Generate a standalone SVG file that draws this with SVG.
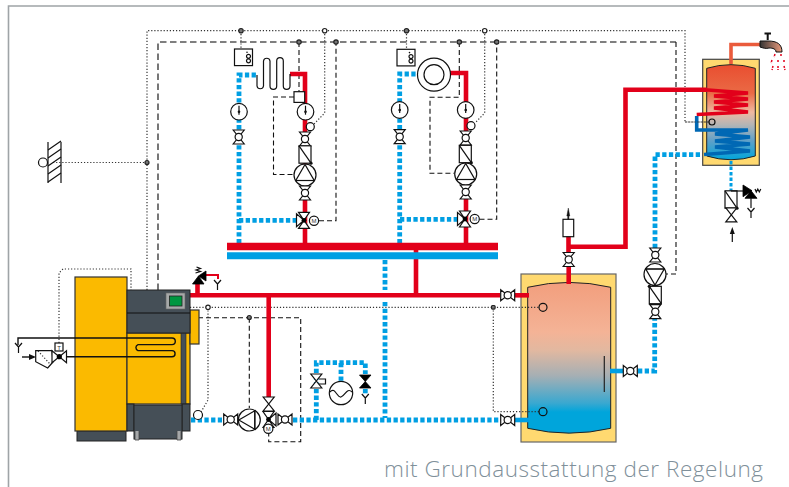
<svg xmlns="http://www.w3.org/2000/svg" width="789" height="487" viewBox="0 0 789 487">
<style>
.r{fill:none;stroke:#e2001a;stroke-width:4.6;stroke-linejoin:miter}
.b{fill:none;stroke:#009fe3;stroke-width:4.8;stroke-dasharray:4.3 2.4}
.cold{fill:none;stroke:#009fe3;stroke-width:4.6}
.dot{fill:none;stroke:#333;stroke-width:1.2;stroke-dasharray:1.2 1.9}
.dg{fill:none;stroke:#555;stroke-width:1.6;stroke-dasharray:6.5 3.5}
.da{fill:none;stroke:#111;stroke-width:1.1;stroke-dasharray:5 3}
.k{fill:none;stroke:#111;stroke-width:1.2}
.w{fill:#fff;stroke:#111;stroke-width:1.2}
.bk{fill:#000;stroke:#000;stroke-width:.8}
.box{fill:#fbba00;stroke:#333;stroke-width:1.2}
.dk{fill:#454f57;stroke:#222;stroke-width:1}
.j{fill:#777;stroke:#222;stroke-width:1.2}
.ju{fill:#fff;stroke:#222;stroke-width:1.2}
.s{fill:none;stroke:#111;stroke-width:1.2}
.cap{font-family:"Open Sans","Noto Sans",sans-serif;font-weight:300;font-size:22.5px;fill:#7f909a}
.t{font-family:"Liberation Sans",sans-serif;font-size:6px;fill:#333;text-anchor:middle}
</style>
<defs>
<linearGradient id="gs" x1="0" y1="0" x2="0" y2="1">
<stop offset="0" stop-color="#f29e7d"/><stop offset=".33" stop-color="#f4b396"/><stop offset=".45" stop-color="#e2b8a0"/><stop offset=".62" stop-color="#a5afb4"/><stop offset=".8" stop-color="#3aa8d0"/><stop offset=".86" stop-color="#00a5db"/><stop offset="1" stop-color="#00a5db"/>
</linearGradient>
<linearGradient id="gd" x1="0" y1="0" x2="0" y2="1">
<stop offset="0" stop-color="#e94e30"/><stop offset=".3" stop-color="#ea6a45"/><stop offset=".5" stop-color="#efb8a0"/><stop offset=".63" stop-color="#b5b5b5"/><stop offset=".8" stop-color="#60a0c8"/><stop offset="1" stop-color="#00a5db"/>
</linearGradient>
<linearGradient id="gf" x1="0" y1="0" x2="1" y2="0">
<stop offset="0" stop-color="#333"/><stop offset="1" stop-color="#eb9b7d"/>
</linearGradient>
<g id="ball"><path class="w" d="M-5.500-7H5.500L2-2.500H-2ZM-5.500 7H5.500L2 2.500H-2Z"/><circle class="w" r="3.600"/></g>
<g id="gate"><path class="w" d="M-5.500-7H5.500L-5.500 7H5.500Z"/></g>
<g id="therm"><circle class="w" r="8.300"/><path d="M0-6V3" stroke="#111" stroke-width="1.200"/><circle r="1.300" fill="#111"/></g>
<g id="meter"><rect class="w" x="-6" y="-8.700" width="12" height="17.400"/><path class="k" d="M-6-8.700 6 8.700"/><circle cx="6" cy="8.700" r="1.600" fill="#111"/></g>
<g id="pump"><circle class="w" r="11"/><path class="k" d="M0-10.500-9.200 5.500H9.200Z"/><path class="k" d="M-9.500 5.500H9.500"/></g>
<g id="mix"><path class="w" d="M-7.500-6.500V6.500L0 0ZM-5.500-8H5.500L0 0ZM-5.500 8H5.500L0 0Z"/><circle r="2.400" fill="#000"/></g>
<g id="drain"><path class="k" d="M-3.500-4 0 0 3.500-4M0 0V6"/></g>
<g id="thermostat"><rect class="w" x="-9" y="-8.300" width="18" height="16.600"/><circle class="k" cx="5" cy="-1" r="2" stroke-width="1"/><circle class="k" cx="5" cy="3.500" r="2" stroke-width="1"/><circle cx="3.500" cy="-5" r=".8" fill="#111"/></g>
</defs>

<g id="frame"><path d="M8.500 487V6H789" fill="none" stroke="#9fa4a7" stroke-width="1.600"/></g>

<g id="tanks-bg">
<g id="storage-body">
<rect x="521" y="274" width="95" height="168" fill="#ffd970" stroke="#666" stroke-width="1.200"/>
<path d="M527.700 287.300Q569 277.500 610.700 287.300V428.300Q569 438 527.700 428.300Z" fill="url(#gs)" stroke="#222" stroke-width="1"/>
<path d="M604.300 356V392" stroke="#222" stroke-width="1.200"/>
</g>
<g id="dhw-body">
<rect x="702.700" y="59.300" width="56.600" height="106" fill="#ffd970" stroke="#444" stroke-width="1.200"/>
<path d="M706.700 68.300Q731 61 755.300 68.300V156Q731 163.500 706.700 156Z" fill="url(#gd)" stroke="#222" stroke-width="1"/>
</g>
</g>

<g id="connectors">
<path class="dot" d="M147 290V30.700H685V122H709"/>
<path class="dg" d="M158 290V42H676"/>
<path class="da" d="M676 42V274H666"/>
<path class="dot" d="M53 162.500H147"/>
<path class="dot" d="M59 343V273L63 269H131V290"/>
<path class="dot" d="M190 307.300H540"/>
<path class="dot" d="M493.300 307.300V411.700H539"/>
<path class="dot" d="M208 307.300V400L201 412"/>
<path class="da" d="M190 317.700H300.700V441.700H268.700V433"/>
<path class="da" d="M249.300 317.700V408"/>
<path class="dot" d="M241 31V49"/><path class="dot" d="M324.700 31V113L314 124"/>
<path class="dot" d="M406.500 31V49"/><path class="dot" d="M484.700 31V113L475 123"/>
<path class="da" d="M299 42V92"/><path class="da" d="M294 97H273.500V174.500H294"/>
<path class="da" d="M319 220.700H336V42"/>
<path class="da" d="M459.300 42V97.300H430V173.300H454"/>
<path class="da" d="M479.500 219.300H496.700V42"/>

<path class="b" d="M239 250V75H257"/>
<path class="b" d="M239 220.300H296"/>
<path class="b" d="M399.700 250V74H418"/>
<path class="b" d="M400 219.300H457"/>
<path class="b" d="M385 260V290M385 302V418"/>
<path class="b" d="M191 420H222"/>
<path class="b" d="M293 420H500"/>
<path class="b" d="M316.300 420V362.700H365.300V374"/>
<path class="b" d="M341 363V381"/>
<path class="b" d="M365.300 389V394"/>
<path class="cold" d="M515 420H529"/>
<path class="cold" d="M610 371H623"/>
<path class="b" d="M638 371H654.700V319"/>
<path class="b" d="M655 248V154.700H702"/>
<path d="M731 161V190.700" fill="none" stroke="#009fe3" stroke-width="3" stroke-dasharray="3.500 2"/>

<path class="r" d="M290 74H305V245"/>
<path class="r" d="M450 73H466V245"/>
<path class="r" d="M416 250V295"/>
<path class="r" d="M190 295.300H500"/>
<path class="r" d="M515 295.300H529"/>
<path class="r" d="M197.500 295V283"/>
<path d="M204 275H218V279" fill="none" stroke="#e2001a" stroke-width="2"/>
<path class="r" d="M268.700 295V397"/>
<path class="r" d="M568.700 284V265"/>
<path class="r" d="M568.500 253V236"/>
<path class="r" d="M568.500 246.700H625.500V89.700H707"/>
<path d="M227 246.500H498" stroke="#e2001a" stroke-width="7.400"/>
<path d="M227 255.800H498" stroke="#009fe3" stroke-width="7"/>
<path d="M731 64V44.500H760" fill="none" stroke="#ea5b3c" stroke-width="3.600"/>
<path d="M700 90H708L748 93 714 96 748 99 714 102 748 105 714 108 748 112 696.700 114.500" fill="none" stroke="#e2001a" stroke-width="3.600"/>
<path d="M696.700 116V130H748L715 134 750 137 715 141 750 144 715 147 750 151 704 154.500" fill="none" stroke="#0068b4" stroke-width="3.600"/>
<path class="dot" d="M685 122H709"/>
<path class="k" d="M257 75V86A3.300 3.300 0 0 0 263.500 86V61A3.300 3.300 0 0 1 270 61V86A3.300 3.300 0 0 0 276.700 86V61A3.300 3.300 0 0 1 283.300 61V86A3.300 3.300 0 0 0 290 86V74"/>
</g>

<g id="boiler">
<rect class="dk" x="77" y="431" width="49" height="10"/>
<rect class="box" x="75" y="277" width="52" height="154"/>
<rect class="box" x="127" y="333" width="63" height="71"/>
<rect x="181" y="333" width="5" height="71" fill="#454f57" stroke="#222" stroke-width=".6"/>
<rect class="box" x="190" y="310" width="9" height="34"/>
<rect class="dk" x="127" y="290" width="63" height="43"/>
<path d="M127 313H190" stroke="#111" stroke-width="1"/>
<rect x="166" y="293" width="19" height="16" fill="#a6a8a9" stroke="#666" stroke-width=".6"/>
<rect x="169.500" y="296" width="12.500" height="10" fill="#009640" stroke="#222" stroke-width=".8"/>
<rect class="dk" x="127" y="404" width="7" height="27"/>
<rect class="dk" x="182" y="404" width="8" height="27"/>
<rect class="dk" x="134" y="405" width="48" height="34"/>
<path d="M135 431V440H139V431M177 431V440H181V431" fill="#a6a8a9" stroke="#444" stroke-width=".8"/>
<path d="M18 345V338H172A3.300 3.300 0 0 1 172 344.600H138A3.200 3.200 0 0 0 138 350.600H172A3 3 0 0 1 172 356.700H66" fill="none" stroke="#111" stroke-width="1.400"/>
</g>

<g id="boiler-valve">
<use href="#drain" x="18.500" y="347"/>
<path d="M22 357H30" stroke="#111" stroke-width="1.400"/><path d="M29 354V360L36 357Z" fill="#111"/>
<path class="w" d="M35.700 350.700H52L53 362 47.700 368 35.700 361.700Z"/>
<path class="dot" d="M38 351 50 364"/>
<rect class="w" x="55" y="343" width="8" height="8"/><text class="t" x="59" y="349.500">T</text>
<path class="w" d="M52 350.700V362.700L59.300 356.700ZM66.500 350.700V362.700L59.300 356.700Z"/><circle cx="59.300" cy="356.700" r="2.600" fill="#000"/>
</g>

<g id="wall">
<path d="M48 142V183M61 142V183" class="k"/>
<path class="k" d="M48 150 61 141M48 158 61 149M48 166 61 157M48 174 61 165M48 182 61 173" stroke-width="1"/>
<circle class="w" cx="43" cy="162.500" r="4.500"/>
</g>

<g id="junctions">
<circle class="j" cx="147" cy="162.500" r="2"/>
<circle class="j" cx="241" cy="30.700" r="2.200"/><circle class="ju" cx="324.700" cy="30.700" r="2.200"/>
<circle class="j" cx="299" cy="42" r="2.200"/><circle class="j" cx="336" cy="42" r="2.200"/>
<circle class="j" cx="406.500" cy="30.700" r="2.200"/><circle class="ju" cx="484.700" cy="30.700" r="2.200"/>
<circle class="j" cx="459.300" cy="42" r="2.200"/><circle class="j" cx="496.700" cy="42" r="2.200"/>
<circle class="ju" cx="208" cy="307.300" r="2.200"/><circle class="j" cx="249.300" cy="317.500" r="2"/>
<rect class="j" x="491.500" y="305.500" width="3.600" height="3.600" rx="1"/>
</g>

<g id="circuit-1">
<use href="#thermostat" x="243.500" y="57.300"/>
<use href="#therm" x="239" y="111.700"/>
<use href="#ball" x="238.700" y="137"/>
<rect class="w" x="294" y="91.700" width="10.700" height="10.700"/>
<use href="#therm" x="305.500" y="111.700"/>
<circle class="w" cx="310.300" cy="126.700" r="4"/>
<use href="#ball" x="305" y="139"/>
<use href="#meter" x="305" y="154.500"/>
<use href="#pump" x="305" y="175"/>
<use href="#ball" x="305" y="193"/>
<use href="#mix" x="304" y="220.300"/>
<circle class="w" cx="314" cy="220.700" r="4.600"/><text class="t" x="314" y="222.800">M</text>
</g>

<g id="circuit-2">
<use href="#thermostat" x="406" y="57.600"/>
<circle class="w" cx="434" cy="74.700" r="16.500"/><circle class="w" cx="434" cy="74.700" r="10"/>
<use href="#therm" x="399.700" y="110"/>
<use href="#ball" x="399.700" y="136.700"/>
<use href="#therm" x="465.700" y="110"/>
<circle class="w" cx="471" cy="125.700" r="4"/>
<use href="#ball" x="465.700" y="138"/>
<use href="#meter" x="465.300" y="154"/>
<use href="#pump" x="465.700" y="174"/>
<use href="#ball" x="465.700" y="192"/>
<use href="#mix" x="465" y="219"/>
<circle class="w" cx="474.700" cy="219" r="4.600"/><text class="t" x="474.700" y="221.100">M</text>
</g>

<g id="boiler-return">
<circle class="w" cx="198" cy="415" r="4.500"/>
<use href="#ball" transform="translate(230.700 419.500) rotate(90)"/>
<use href="#pump" transform="translate(249.300 420) rotate(-90)"/>
<use href="#gate" x="268.700" y="404"/>
<g transform="translate(268.500 419.500) rotate(180)"><use href="#mix"/></g>
<use href="#ball" transform="translate(285 419.500) rotate(90)"/>
<circle class="w" cx="268.300" cy="428.700" r="4.600"/><text class="t" x="268.300" y="430.800">M</text>
</g>

<g id="safety-1">
<path class="bk" d="M198.500 276 192.500 284H204ZM198.500 276 206 271V281Z"/>
<path class="k" d="M195.500 273 200.500 271.500 196 270 200.500 268.500 196.500 267"/>
<use href="#drain" x="217.500" y="284"/>
</g>

<g id="fill-group">
<use href="#gate" x="316.300" y="381"/>
<path class="k" d="M319 379H325.500V384H319"/>
<circle class="w" cx="341" cy="393" r="11.700"/>
<path class="k" d="M330 392C335 386 337 398 341 397S347 387 352 392"/>
<path class="bk" d="M359.500 375H371L359.500 388H371Z"/>
<use href="#drain" x="365.300" y="398"/>
</g>

<g id="storage-fittings">
<use href="#ball" transform="translate(507.700 295.300) rotate(90)"/>
<use href="#ball" transform="translate(507.700 420) rotate(90)"/>
<use href="#ball" transform="translate(630.300 371) rotate(90)"/>
<use href="#ball" x="568.700" y="259.500"/>
<circle class="s" cx="543" cy="307.300" r="4"/>
<circle class="s" cx="543" cy="411.700" r="4"/>
<rect class="w" x="563" y="219.300" width="10.700" height="17.400"/>
<path d="M568.300 208 566.800 216H567.700V219.300H568.900V216H569.800Z" fill="#111" stroke="#111" stroke-width=".4"/>
</g>

<g id="load-pump">
<use href="#ball" x="655.300" y="255"/>
<use href="#pump" transform="translate(655 274.500) rotate(180)"/>
<use href="#meter" transform="translate(655.300 295) rotate(180)"/>
<use href="#ball" x="655.300" y="311.700"/>
</g>

<g id="dhw-fittings">
<circle class="s" cx="712" cy="122" r="3"/>
<use href="#meter" x="731" y="199.500"/>
<use href="#gate" x="731.300" y="214.800"/>
<path d="M731 191H743" stroke="#111" stroke-width="1.200"/>
<path class="bk" d="M752 190.700 743 185V196.700ZM751 190.700 745 198.300H757Z"/>
<path class="k" d="M755 189 756.300 192 757.800 189 759.300 192 760.800 189"/>
<path class="k" d="M751 198V208"/>
<use href="#drain" x="751" y="212"/>
<path d="M732.300 227 729.800 234H731.700V242H732.900V234H734.800Z" fill="#111"/>
</g>

<g id="faucet">
<path d="M764.500 33.500H771M767.700 33.500V40" stroke="#111" stroke-width="2" fill="none"/>
<path d="M760 41H768C777 41 782 44 782 52H776C776 49 773 48 769 48 766 49 763 48 760 47Z" fill="url(#gf)" stroke="#111" stroke-width="1"/>
<path d="M775 54 774 57M781 54V57M772 60 771 63M778 60V63M784 60V63M773 66 772 70M778 66V70M784 66 785 70" stroke="#e2001a" stroke-width="1.500" stroke-dasharray="2 1" fill="none"/>
</g>

<text class="cap" x="384" y="477" textLength="379">mit Grundausstattung der Regelung</text>
</svg>
